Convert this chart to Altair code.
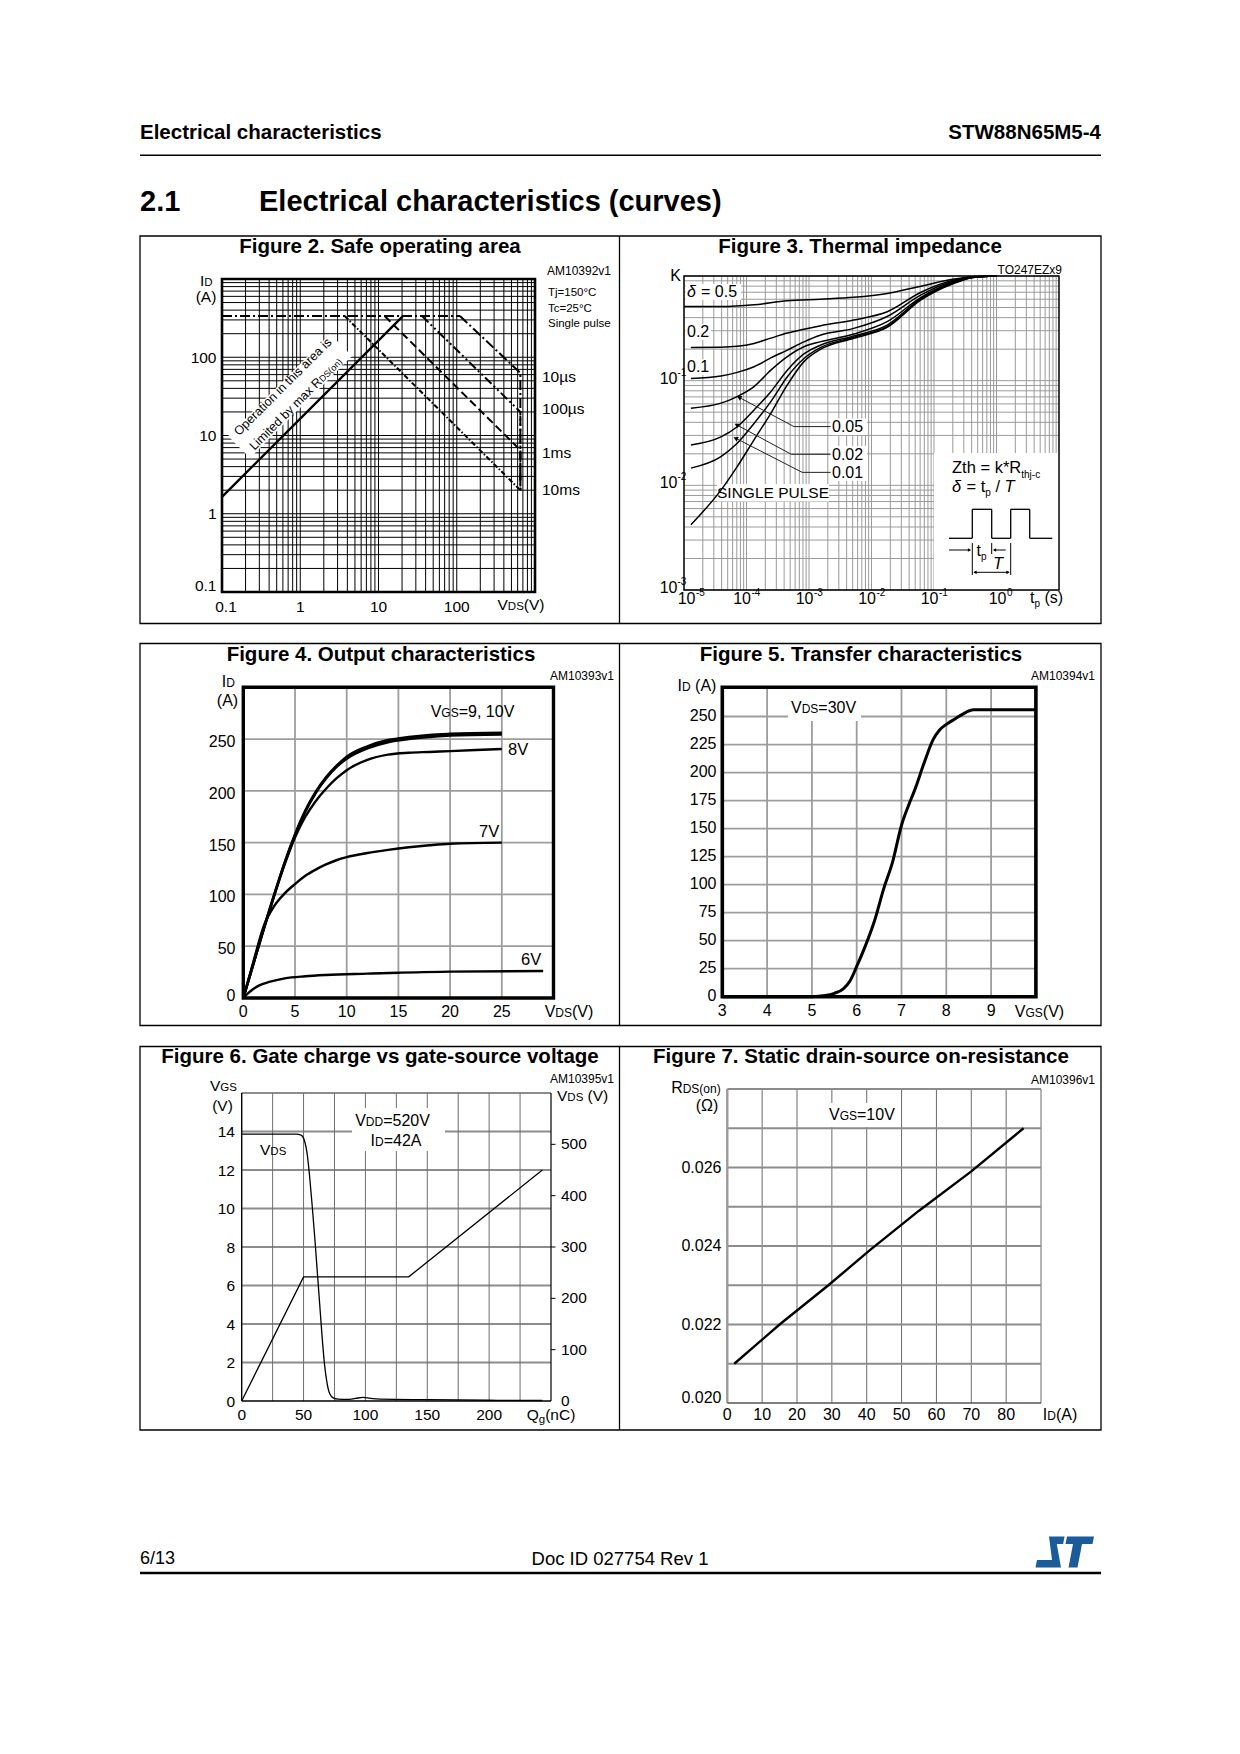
import altair as alt
import pandas as pd

# ======================= DATA =======================
# ---- Figure 2: safe operating area (log-log) ----
soa_rds_v = [0.1, 20.5]
soa_rds_i = [1.64, 336.0]
soa_idm_v = [0.1, 110.0]
soa_idm_i = [336.0, 336.0]
soa_10us_v = [110.0, 650.0, 650.0]
soa_10us_i = [336.0, 63.0, 2.0]
soa_100us_v = [36.0, 650.0, 650.0]
soa_100us_i = [336.0, 20.0, 2.0]
soa_1ms_v = [12.0, 650.0, 650.0]
soa_1ms_i = [336.0, 6.5, 2.0]
soa_10ms_v = [3.7, 650.0]
soa_10ms_i = [336.0, 2.0]
soa_note_v = [0.165, 3.32]
soa_note_i = [7.13, 143.5]
log_steps = [1, 2, 3, 4, 5, 6, 7, 8, 9]
soa_grid = [m * 10.0 ** e for e in range(-1, 3) for m in log_steps] + [1000.0]
soa_ticks = [1, 10, 100]
soa_tick_text = ["1", "10", "100"]

# ---- Figure 3: thermal impedance ----
zth_05_t = [1e-5, 3.9e-5, 1.32e-4, 4.5e-4, 1.55e-3, 5.2e-3, 1.78e-2, 6.2e-2, 0.21, 0.42, 1.0]
zth_05_k = [0.51, 0.51, 0.53, 0.58, 0.60, 0.625, 0.68, 0.80, 0.935, 0.985, 1.0]
zth_t = [1.29e-5, 3.9e-5, 7.1e-5, 1.32e-4, 2.45e-4, 4.5e-4, 8.3e-4, 1.55e-3, 5.2e-3, 1.78e-2, 6.2e-2, 0.21, 0.42, 1.0]
zth_d02 = [0.208, 0.209, 0.213, 0.227, 0.255, 0.285, 0.31, 0.335, 0.38, 0.455, 0.70, 0.915, 0.98, 1.0]
zth_d01 = [0.105, 0.111, 0.12, 0.136, 0.165, 0.196, 0.235, 0.273, 0.316, 0.41, 0.66, 0.90, 0.978, 1.0]
zth_d005 = [0.0545, 0.061, 0.0705, 0.0877, 0.126, 0.17, 0.211, 0.236, 0.279, 0.366, 0.625, 0.88, 0.975, 1.0]
zth_d002 = [0.0243, 0.029, 0.0363, 0.0525, 0.0785, 0.126, 0.18, 0.219, 0.267, 0.34, 0.61, 0.87, 0.973, 1.0]
zth_d001 = [0.0146, 0.0188, 0.0252, 0.039, 0.063, 0.109, 0.163, 0.208, 0.26, 0.328, 0.60, 0.86, 0.97, 1.0]
zth_single = [0.0042, 0.009, 0.0151, 0.0272, 0.0488, 0.091, 0.152, 0.2, 0.254, 0.324, 0.59, 0.85, 0.968, 1.0]
lead_05_t = [2.22e-3, 5.75e-4, 7.6e-5]
lead_05_k = [0.0364, 0.0364, 0.0693]
lead_02_t = [2.22e-3, 5.2e-4, 6.97e-5]
lead_02_k = [0.0198, 0.0198, 0.0378]
lead_01_t = [2.22e-3, 7.8e-4, 6.7e-5]
lead_01_k = [0.0133, 0.0133, 0.0282]
zth_box_t = [0.1, 10.0]
zth_box_k = [0.001, 0.0204]
zth_xgrid = [m * 10.0 ** e for e in range(-5, 1) for m in log_steps] + [10.0]
zth_ygrid = [m * 10.0 ** e for e in range(-3, 0) for m in log_steps] + [1.0]
zth_xticks = [1e-4, 1e-3, 1e-2, 1e-1]
zth_xsup = ["-4", "-3", "-2", "-1"]
zth_yticks = [1e-1, 1e-2, 1e-3]
zth_ysup = ["-1", "-2", "-3"]

# ---- Figure 4: output characteristics ----
out_vds = [0, 1, 2, 3, 4, 5, 6, 7, 8, 9, 10, 12, 14, 16, 18, 20, 25]
out_10v = [0, 34, 68, 100, 131, 158, 181, 199, 213, 224, 233, 243, 249, 252, 254, 255, 256]
out_9v = [0, 34, 68, 100, 130, 157, 180, 198, 212, 223, 231, 241, 247, 250, 252, 253.5, 254.5]
out_8v = [0, 34, 67, 99, 129, 155, 175, 190, 202, 212, 220, 230, 235, 236.8, 237.6, 238.4, 240.4]
out_7v = [0, 36, 70, 89, 101, 110, 118, 124, 129, 133, 136, 140, 143, 145.5, 147.5, 149, 150]
out6_vds = [0, 0.5, 1, 1.5, 2.5, 4, 6, 8, 12, 15, 20, 29]
out_6v = [0, 5, 9, 12, 15.5, 19, 21, 22.2, 23.5, 24.4, 25.5, 26]
out_xgrid = [5, 10, 15, 20, 25]
out_ygrid = [50, 100, 150, 200, 250]

# ---- Figure 5: transfer characteristics ----
tr_vgs = [3, 4, 5, 5.3, 5.5, 5.7, 5.85, 6.0, 6.2, 6.4, 6.6, 6.8, 7.0, 7.15, 7.3, 7.5, 7.7, 7.85, 8.0, 8.2, 8.45, 8.6, 9, 10]
tr_id = [0, 0, 0, 1, 3, 7, 14, 27, 46, 68, 96, 120, 153, 170, 185, 208, 229, 238, 243, 248, 254, 256, 256, 256]
tr_xgrid = [4, 5, 6, 7, 8, 9]
tr_ygrid = [25, 50, 75, 100, 125, 150, 175, 200, 225, 250]

# ---- Figure 6: gate charge ----
gc_q_vgs = [0, 50, 135, 243]
gc_vgs = [0, 6.45, 6.45, 12.0]
gc_q_vds = [0, 44, 48, 51, 53, 55, 57, 59, 61, 63, 65, 67, 69, 71, 74, 78, 85, 92, 98, 104, 112, 150, 200, 243]
gc_vds = [520, 520, 518, 505, 480, 435, 380, 320, 255, 190, 125, 70, 35, 15, 6, 3.5, 3, 5, 7, 5, 3.5, 2.5, 1.5, 1]
gc_xgrid = [25, 50, 75, 100, 125, 150, 175, 200, 225]
gc_ygrid = [2, 4, 6, 8, 10, 12, 14, 16]
gc_rticks = [100, 200, 300, 400, 500]

# ---- Figure 7: static drain-source on-resistance ----
rds_id = [2, 15, 29, 41, 55, 70, 85]
rds_val = [0.0210, 0.0220, 0.0230, 0.0239, 0.0249, 0.0259, 0.0270]
rds_xgrid = [10, 20, 30, 40, 50, 60, 70, 80, 90]
rds_ygrid = [0.021, 0.022, 0.023, 0.024, 0.025, 0.026, 0.027, 0.028]

# ======================= HELPERS =======================
ONE = pd.DataFrame({"k": [0]})
CW = {' ': 278, '(': 333, ')': 333, '=': 584, '.': 278, ',': 278, '-': 333, '/': 278, '*': 389,
      '°': 400, 'µ': 556, 'Ω': 768, 'δ': 600,
      'A': 667, 'B': 667, 'C': 722, 'D': 722, 'E': 667, 'F': 611, 'G': 778, 'H': 722, 'I': 278,
      'J': 500, 'K': 667, 'L': 556, 'M': 833, 'N': 722, 'O': 778, 'P': 667, 'Q': 778, 'R': 722,
      'S': 667, 'T': 611, 'U': 722, 'V': 667, 'W': 944, 'X': 667, 'Y': 667, 'Z': 611,
      'a': 556, 'b': 556, 'c': 500, 'd': 556, 'e': 556, 'f': 278, 'g': 556, 'h': 556, 'i': 222,
      'j': 222, 'k': 500, 'l': 222, 'm': 833, 'n': 556, 'o': 556, 'p': 556, 'q': 556, 'r': 333,
      's': 500, 't': 278, 'u': 556, 'v': 500, 'w': 722, 'x': 500, 'y': 500, 'z': 500}


def tw(s, size):
    return sum(CW.get(c, 556) for c in s) * size / 1000.0


def P(v):
    return v - 8


def T(x, y, text, size, align="left", weight="normal", style="normal", angle=None, color="black"):
    kw = dict(text=text, fontSize=size, align=align, baseline="middle", fontWeight=weight,
              fontStyle=style, color=color)
    if angle:
        kw["angle"] = angle
    return alt.Chart(ONE).mark_text(**kw).encode(x=alt.value(P(x)), y=alt.value(P(y)))


def RT(x, y, segs, align="left", angle=None):
    main = max(s[1] for s in segs)
    ws = [tw(s[0], s[1]) for s in segs]
    off = {"left": 0.0, "center": -sum(ws) / 2.0, "right": -sum(ws)}[align]
    out = []
    for s, w in zip(segs, ws):
        ddy = s[2] if len(s) > 2 else 0
        st = s[3] if len(s) > 3 else "normal"
        txt = s[0]
        lead = len(txt) - len(txt.lstrip(" "))
        start = off + lead * 278 * s[1] / 1000.0
        txt = txt.strip(" ")
        kw = dict(text=txt, fontSize=s[1], align="left", baseline="alphabetic", dx=start,
                  dy=0.30 * main + ddy, fontStyle=st, color="black")
        if angle:
            kw["angle"] = angle
        out.append(alt.Chart(ONE).mark_text(**kw).encode(x=alt.value(P(x)), y=alt.value(P(y))))
        off += w
    return out


def HR(x0, x1, y, w=1.0, color="black"):
    return alt.Chart(ONE).mark_rule(color=color, strokeWidth=w).encode(
        x=alt.value(P(x0)), x2=alt.value(P(x1)), y=alt.value(P(y)))


def VR(x, y0, y1, w=1.0, color="black"):
    return alt.Chart(ONE).mark_rule(color=color, strokeWidth=w).encode(
        x=alt.value(P(x)), y=alt.value(P(y0)), y2=alt.value(P(y1)))


def BOX(x0, y0, x1, y1, stroke="black", w=1.0, fill=None):
    if fill:
        mk = alt.Chart(ONE).mark_rect(fill=fill, strokeWidth=0)
    else:
        mk = alt.Chart(ONE).mark_rect(fillOpacity=0, stroke=stroke, strokeWidth=w)
    return mk.encode(x=alt.value(P(x0)), x2=alt.value(P(x1)), y=alt.value(P(y0)), y2=alt.value(P(y1)))


def lg(d, r):
    return alt.Scale(type="log", domain=d, range=[P(r[0]), P(r[1])], nice=False)


def ln(d, r):
    return alt.Scale(type="linear", domain=d, range=[P(r[0]), P(r[1])], nice=False, zero=False)


def vgrid(vals, sx, y0, y1, color, w):
    return alt.Chart(pd.DataFrame({"v": vals})).mark_rule(color=color, strokeWidth=w).encode(
        x=alt.X("v:Q", scale=sx, axis=None), y=alt.value(P(y0)), y2=alt.value(P(y1)))


def hgrid(vals, sy, x0, x1, color, w):
    return alt.Chart(pd.DataFrame({"v": vals})).mark_rule(color=color, strokeWidth=w).encode(
        y=alt.Y("v:Q", scale=sy, axis=None), x=alt.value(P(x0)), x2=alt.value(P(x1)))


def curve(xs, ys, sx, sy, width=2.0, dash=None, interp="linear", color="black"):
    df = pd.DataFrame({"x": xs, "y": ys, "i": list(range(len(xs)))})
    kw = dict(color=color, strokeWidth=width, interpolate=interp)
    if dash:
        kw["strokeDash"] = dash
    return alt.Chart(df).mark_line(**kw).encode(
        x=alt.X("x:Q", scale=sx, axis=None), y=alt.Y("y:Q", scale=sy, axis=None),
        order=alt.Order("i:Q"))


def drect(xs, ys, sx, sy, fill="white"):
    df = pd.DataFrame({"x0": [xs[0]], "x1": [xs[1]], "y0": [ys[0]], "y1": [ys[1]]})
    return alt.Chart(df).mark_rect(fill=fill, strokeWidth=0).encode(
        x=alt.X("x0:Q", scale=sx, axis=None), x2="x1:Q",
        y=alt.Y("y0:Q", scale=sy, axis=None), y2="y1:Q")


def xlab(vals, texts, sx, y, size, dx=0, dy=0, align="center"):
    df = pd.DataFrame({"v": vals, "t": texts})
    return alt.Chart(df).mark_text(fontSize=size, align=align, baseline="middle", dx=dx, dy=dy,
                                   color="black").encode(
        x=alt.X("v:Q", scale=sx, axis=None), y=alt.value(P(y)), text="t:N")


def ylab(vals, texts, sy, x, size, dx=0, dy=0, align="right"):
    df = pd.DataFrame({"v": vals, "t": texts})
    return alt.Chart(df).mark_text(fontSize=size, align=align, baseline="middle", dx=dx, dy=dy,
                                   color="black").encode(
        y=alt.Y("v:Q", scale=sy, axis=None), x=alt.value(P(x)), text="t:N")


def dhead(t, k, sx, sy, angle):
    df = pd.DataFrame({"x": [t], "y": [k]})
    return alt.Chart(df).mark_point(shape="triangle-up", angle=angle, size=28, filled=True,
                                    color="black", opacity=1).encode(
        x=alt.X("x:Q", scale=sx, axis=None), y=alt.Y("y:Q", scale=sy, axis=None))


def phead(x, y, shape):
    return alt.Chart(ONE).mark_point(shape=shape, size=14, filled=True, color="black",
                                     opacity=1).encode(x=alt.value(P(x)), y=alt.value(P(y)))


L = []

# ======================= PAGE =======================
L.append(T(140, 133, "Electrical characteristics", 20.5, weight="bold"))
L.append(T(1101, 133, "STW88N65M5-4", 20.5, align="right", weight="bold"))
L.append(HR(140, 1101, 155.3, 1.5))
L.append(T(140, 202, "2.1", 29, weight="bold"))
L.append(T(259, 202, "Electrical characteristics (curves)", 29, weight="bold"))
for (y0, y1) in [(236, 623.5), (643.5, 1025.5), (1046.5, 1430)]:
    L.append(BOX(140, y0, 1101, y1, w=1.3))
    L.append(VR(619.5, y0, y1, 1.3))

# ======================= FIGURE 2 =======================
SX2 = lg([0.1, 1000], [222, 535])
SY2 = lg([0.1, 1000], [592, 279])
L.append(T(380, 247, "Figure 2. Safe operating area", 20.5, align="center", weight="bold"))
L.append(vgrid(soa_grid, SX2, 279, 592, "black", 1))
L.append(hgrid(soa_grid, SY2, 222, 535, "black", 1))
L.append(curve(soa_note_v, soa_note_i, SX2, SY2, width=31, color="white"))
L.append(curve(soa_idm_v, soa_idm_i, SX2, SY2, width=2, dash=[10, 3, 2, 3]))
L.append(curve(soa_10us_v, soa_10us_i, SX2, SY2, width=2, dash=[10, 3, 2, 3]))
L.append(curve(soa_100us_v, soa_100us_i, SX2, SY2, width=2, dash=[9, 3, 2, 3, 2, 3]))
L.append(curve(soa_1ms_v, soa_1ms_i, SX2, SY2, width=2, dash=[8, 4]))
L.append(curve(soa_10ms_v, soa_10ms_i, SX2, SY2, width=2, dash=[5, 2, 1.5, 2]))
L.append(curve(soa_rds_v, soa_rds_i, SX2, SY2, width=2.3))
L.append(BOX(222, 279, 535, 592, w=2.6))
L += RT(283, 387, [("Operation in this area is", 12.5)], align="center", angle=315)
L += RT(296, 404, [("Limited by max R", 12.5), ("DS(on)", 9)], align="center", angle=315)
L.append(T(611, 271, "AM10392v1", 12, align="right"))
L.append(T(548, 293, "Tj=150°C", 11.5))
L.append(T(548, 309, "Tc=25°C", 11.5))
L.append(T(548, 324, "Single pulse", 11.5))
L.append(T(542, 377, "10µs", 15.5))
L.append(T(542, 409, "100µs", 15.5))
L.append(T(542, 453, "1ms", 15.5))
L.append(T(542, 489.5, "10ms", 15.5))
L += RT(200, 281, [("I", 15.5), ("D", 11.5)])
L.append(T(206, 296.5, "(A)", 15.5, align="center"))
L.append(ylab(soa_ticks, soa_tick_text, SY2, 216.5, 15.5, dy=0.5))
L.append(ylab([0.1], ["0.1"], SY2, 216.5, 15.5, dy=-6))
L.append(xlab(soa_ticks, soa_tick_text, SX2, 606.5, 15.5))
L.append(xlab([0.1], ["0.1"], SX2, 606.5, 15.5, dx=4))
L += RT(521, 605, [("V", 15.5), ("DS", 11.5), ("(V)", 15.5)], align="center")

# ======================= FIGURE 3 =======================
SX3 = lg([1e-5, 10], [684, 1059])
SY3 = lg([1e-3, 1], [590, 276])
G3 = "#9a9a9a"
L.append(T(860, 247, "Figure 3. Thermal impedance", 20.5, align="center", weight="bold"))
L.append(T(1062, 270, "TO247EZx9", 12, align="right"))
L.append(vgrid(zth_xgrid, SX3, 276, 590, G3, 1))
L.append(hgrid(zth_ygrid, SY3, 684, 1059, G3, 1))
L.append(drect(zth_box_t, zth_box_k, SX3, SY3))
L.append(BOX(685.5, 284, 741, 300, fill="white"))
L.append(BOX(685.5, 324, 711, 340, fill="white"))
L.append(BOX(685.5, 359, 711, 375, fill="white"))
L.append(BOX(830, 418.5, 867, 435, fill="white"))
L.append(BOX(830, 446, 867, 481, fill="white"))
L.append(BOX(717, 484, 829, 501.5, fill="white"))
L.append(curve(zth_05_t, zth_05_k, SX3, SY3, width=1.5, interp="monotone"))
for ser in [zth_d02, zth_d01, zth_d005, zth_d002, zth_d001, zth_single]:
    L.append(curve(zth_t, ser, SX3, SY3, width=1.5, interp="monotone"))
L.append(curve(lead_05_t, lead_05_k, SX3, SY3, width=1, color="#222222"))
L.append(curve(lead_02_t, lead_02_k, SX3, SY3, width=1, color="#222222"))
L.append(curve(lead_01_t, lead_01_k, SX3, SY3, width=1, color="#222222"))
L.append(dhead(lead_05_t[-1], lead_05_k[-1], SX3, SY3, 298))
L.append(dhead(lead_02_t[-1], lead_02_k[-1], SX3, SY3, 298))
L.append(dhead(lead_01_t[-1], lead_01_k[-1], SX3, SY3, 297))
L.append(BOX(684, 276, 1059, 590, w=1.4))
L.append(T(675.5, 276, "K", 16, align="center"))
L.append(ylab(zth_yticks, ["10"] * 3, SY3, 677.5, 16, dy=-2))
L.append(ylab(zth_yticks, zth_ysup, SY3, 677.5, 10, dy=-8, align="left"))
L.append(xlab(zth_xticks, ["10"] * 4, SX3, 598.5, 16, dx=4.5, align="right"))
L.append(xlab(zth_xticks, zth_xsup, SX3, 598.5, 10, dx=5, dy=-6, align="left"))
L.append(xlab([1e-5], ["10"], SX3, 598.5, 16, dx=11.5, align="right"))
L.append(xlab([1e-5], ["-5"], SX3, 598.5, 10, dx=12, dy=-6, align="left"))
L.append(xlab([1.0], ["10"], SX3, 598.5, 16, dx=10, align="right"))
L.append(xlab([1.0], ["0"], SX3, 598.5, 10, dx=10.5, dy=-6, align="left"))
L += RT(1030, 598.5, [("t", 16), ("p", 10, 4), (" (s)", 16)])
L += RT(687, 292, [("δ", 16, 0, "italic"), (" = 0.5", 16)])
L.append(T(687, 332, "0.2", 16))
L.append(T(687, 367, "0.1", 16))
L.append(T(832, 427, "0.05", 16))
L.append(T(832, 454.5, "0.02", 16))
L.append(T(832, 472.5, "0.01", 16))
L.append(T(717, 493, "SINGLE PULSE", 15.5))
L += RT(952, 468, [("Zth = k*R", 16.5), ("thj-c", 10, 5)])
L += RT(952, 487, [("δ", 16.5, 0, "italic"), (" = t", 16.5), ("p", 10, 4), (" / ", 16.5),
                   ("T", 16.5, 0, "italic")])
# pulse sketch
for seg in [(949, 972.3, 538.3), (972.3, 991.7, 509.3), (991.7, 1010.7, 538.3),
            (1010.7, 1029.7, 509.3), (1029.7, 1052.3, 538.3)]:
    L.append(HR(seg[0], seg[1], seg[2], 1.3))
for xv in [972.3, 991.7, 1010.7, 1029.7]:
    L.append(VR(xv, 509.3, 538.3, 1.3))
L.append(HR(949, 970, 550, 1))
L.append(phead(969.5, 550, "triangle-right"))
L.append(HR(994, 1005.7, 550, 1))
L.append(phead(994.5, 550, "triangle-left"))
L.append(VR(972.3, 543, 575, 1))
L.append(VR(991.7, 543, 554, 1))
L.append(VR(1010.7, 543, 575, 1))
L.append(HR(974, 1009, 572.3, 1))
L.append(phead(975, 572.3, "triangle-left"))
L.append(phead(1008, 572.3, "triangle-right"))
L += RT(976.5, 551.5, [("t", 16), ("p", 10, 4)])
L.append(T(998, 563.5, "T", 16.5, align="center", style="italic"))

# ======================= FIGURE 4 =======================
SX4 = ln([0, 30], [243.3, 553.5])
SY4 = ln([0, 300], [998, 687.3])
G4 = "#9d9d9d"
L.append(T(381, 655, "Figure 4. Output characteristics", 20.5, align="center", weight="bold"))
L.append(T(614, 676, "AM10393v1", 12, align="right"))
L.append(vgrid(out_xgrid, SX4, 687.3, 998, G4, 1.8))
L.append(hgrid(out_ygrid, SY4, 243.3, 553.5, G4, 1.8))
L.append(curve(out_vds, out_10v, SX4, SY4, width=2.6, interp="monotone"))
L.append(curve(out_vds, out_9v, SX4, SY4, width=2.6, interp="monotone"))
L.append(curve(out_vds, out_8v, SX4, SY4, width=2.4, interp="monotone"))
L.append(curve(out_vds, out_7v, SX4, SY4, width=2.4, interp="monotone"))
L.append(curve(out6_vds, out_6v, SX4, SY4, width=2.4, interp="monotone"))
L.append(BOX(243.3, 687.3, 553.5, 998, w=3.4))
L += RT(472.5, 712, [("V", 16), ("GS", 12), ("=9, 10V", 16)], align="center")
L.append(T(508, 750, "8V", 16.5))
L.append(T(479, 832, "7V", 16.5))
L.append(T(521, 960, "6V", 16.5))
L += RT(221.7, 682, [("I", 16), ("D", 12)])
L.append(T(227.5, 701, "(A)", 16, align="center"))
L.append(ylab(out_ygrid, [str(v) for v in out_ygrid], SY4, 235.5, 16, dy=3))
L.append(ylab([0], ["0"], SY4, 235.5, 16, dy=-2))
L.append(xlab([0] + out_xgrid, ["0", "5", "10", "15", "20", "25"], SX4, 1011.5, 16))
L += RT(569, 1012.5, [("V", 16), ("DS", 12), ("(V)", 16)], align="center")

# ======================= FIGURE 5 =======================
SX5 = ln([3, 10], [722.3, 1035.9])
SY5 = ln([0, 275], [996.7, 688.5])
G5 = "#9d9d9d"
L.append(T(861, 655, "Figure 5. Transfer characteristics", 20.5, align="center", weight="bold"))
L.append(T(1095, 676, "AM10394v1", 12, align="right"))
L.append(vgrid(tr_xgrid, SX5, 688, 996.7, G5, 1.8))
L.append(hgrid(tr_ygrid, SY5, 722.3, 1035.9, G5, 1.8))
L.append(BOX(788, 689, 861, 721, fill="white"))
L.append(curve(tr_vgs, tr_id, SX5, SY5, width=3, interp="monotone"))
L.append(BOX(722.3, 687.3, 1035.9, 996.7, w=3.6))
L += RT(791, 708.5, [("V", 16), ("DS", 12), ("=30V", 16)])
L += RT(677.5, 686, [("I", 16), ("D", 12), (" (A)", 16)])
L.append(ylab([0] + tr_ygrid, [str(v) for v in [0] + tr_ygrid], SY5, 716.5, 16, dy=-0.5))
L.append(xlab([3, 4, 5, 6, 7, 8, 9], ["3", "4", "5", "6", "7", "8", "9"], SX5, 1010.5, 16))
L += RT(1039.5, 1012.5, [("V", 16), ("GS", 12), ("(V)", 16)], align="center")

# ======================= FIGURE 6 =======================
SX6 = ln([0, 250], [241.7, 551])
SY6 = ln([0, 16], [1401, 1093])
SY6R = ln([0, 600], [1401, 1093])
L.append(T(380, 1057, "Figure 6. Gate charge vs gate-source voltage", 20.5, align="center",
           weight="bold"))
L.append(T(614, 1079, "AM10395v1", 12, align="right"))
L.append(hgrid(gc_ygrid, SY6, 241.7, 551, "#8c8c8c", 2))
L.append(vgrid(gc_xgrid, SX6, 1093, 1401, "#6e6e6e", 1))
L.append(BOX(352, 1108, 445, 1151, fill="white"))
L.append(VR(241.7, 1093, 1401, 1.4))
L.append(HR(241.7, 551, 1401, 1.6))
L.append(VR(551, 1093, 1401, 1.2))
rt_df = pd.DataFrame({"v": gc_rticks})
L.append(alt.Chart(rt_df).mark_rule(color="black", strokeWidth=1).encode(
    y=alt.Y("v:Q", scale=SY6R, axis=None), x=alt.value(P(551)), x2=alt.value(P(555.5))))
L.append(curve(gc_q_vgs, gc_vgs, SX6, SY6, width=1.3))
L.append(curve(gc_q_vds, gc_vds, SX6, SY6R, width=1.3, interp="monotone"))
L += RT(392.5, 1121, [("V", 16), ("DD", 12), ("=520V", 16)], align="center")
L += RT(396, 1141, [("I", 16), ("D", 12), ("=42A", 16)], align="center")
L += RT(260, 1150, [("V", 15.5), ("DS", 11.5)])
L += RT(210, 1086.7, [("V", 15.5), ("GS", 11.5)])
L.append(T(222.5, 1105.7, "(V)", 15.5, align="center"))
L += RT(557, 1096.7, [("V", 15.5), ("DS", 11.5), (" (V)", 15.5)])
L.append(ylab([0, 2, 4, 6, 8, 10, 12, 14], ["0", "2", "4", "6", "8", "10", "12", "14"], SY6,
              235, 15.5, dy=0.5))
L.append(ylab([0] + gc_rticks, ["0", "100", "200", "300", "400", "500"], SY6R, 561, 15.5,
              align="left"))
L.append(xlab([0, 50, 100, 150, 200], ["0", "50", "100", "150", "200"], SX6, 1415, 15.5))
L += RT(551, 1415, [("Q", 15.5), ("g", 11.5, 3), ("(nC)", 15.5)], align="center")

# ======================= FIGURE 7 =======================
SX7 = ln([0, 90], [727.3, 1041])
SY7 = ln([0.020, 0.028], [1403, 1089])
L.append(T(861, 1057, "Figure 7. Static drain-source on-resistance", 20.5, align="center",
           weight="bold"))
L.append(T(1095, 1080, "AM10396v1", 12, align="right"))
L.append(vgrid(rds_xgrid, SX7, 1089, 1403, "#6a6a6a", 1))
L.append(hgrid(rds_ygrid, SY7, 727.3, 1041, "#8c8c8c", 2))
L.append(VR(727.3, 1089, 1403, 2.4, color="#9a9a9a"))
L.append(HR(727.3, 1041, 1403, 1.6, color="#555555"))
L.append(BOX(826, 1103, 893, 1127, fill="white"))
L.append(curve(rds_id, rds_val, SX7, SY7, width=2.4))
L += RT(829, 1115, [("V", 16), ("GS", 12), ("=10V", 16)])
L += RT(720.7, 1087.7, [("R", 16), ("DS(on)", 12)], align="right")
L.append(T(707, 1105.7, "(Ω)", 16, align="center"))
L.append(ylab([0.022, 0.024, 0.026], ["0.022", "0.024", "0.026"], SY7, 721.5, 16))
L.append(ylab([0.020], ["0.020"], SY7, 721.5, 16, dy=-5))
L.append(xlab([0, 10, 20, 30, 40, 50, 60, 70, 80],
              ["0", "10", "20", "30", "40", "50", "60", "70", "80"], SX7, 1415, 16))
L += RT(1060, 1415, [("I", 16), ("D", 12), ("(A)", 16)], align="center")

# ======================= FOOTER =======================
L.append(T(140, 1558.5, "6/13", 18))
L.append(T(620, 1558.5, "Doc ID 027754 Rev 1", 18.5, align="center"))
L.append(HR(140, 1101, 1573, 2.6))
ST_PATH = ("M-0.50,-0.52 L0.02,-0.52 L-0.03,-0.27 L-0.24,-0.27 L-0.10,0.52 L-0.95,0.52 "
           "L-0.90,0.27 L-0.40,0.27 Z M0.10,-0.52 L1.0,-0.52 L0.95,-0.27 L0.60,-0.27 "
           "L0.45,0.52 L0.15,0.52 L0.30,-0.27 L0.05,-0.27 Z")
L.append(alt.Chart(ONE).mark_point(shape=ST_PATH, size=3600, filled=True, color="#1a5b99",
                                   opacity=1, strokeWidth=0).encode(
    x=alt.value(P(1064)), y=alt.value(P(1552))))

chart = (
    alt.layer(*L)
    .resolve_scale(x="independent", y="independent")
    .properties(width=1224, height=1738, padding=0, background="white")
    .configure(font="Liberation Sans")
    .configure_view(stroke=None)
)
chart.save("out.html", embed_options={"renderer": "svg", "actions": False})
